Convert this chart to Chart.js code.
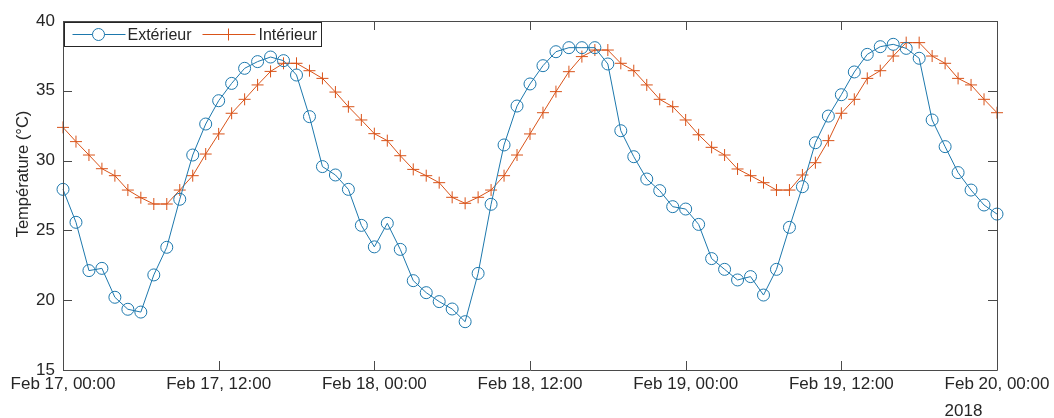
<!DOCTYPE html>
<html>
<head>
<meta charset="utf-8">
<script src="https://cdn.jsdelivr.net/npm/chart.js@4/dist/chart.umd.min.js"></script>
<style>
  html, body { margin: 0; padding: 0; background: #fff; }
  #wrap { width: 1054px; height: 418px; }
</style>
</head>
<body>
<div id="wrap"><canvas id="chart" width="1054" height="418"></canvas></div>
<script>
/* hours since Feb 17, 00:00 */
const hours = [0,1,2,3,4,5,6,7,8,9,10,11,12,13,14,15,16,17,18,19,20,21,22,23,24,
  25,26,27,28,29,30,31,32,33,34,35,36,37,38,39,40,41,42,43,44,45,46,47,48,
  49,50,51,52,53,54,55,56,57,58,59,60,61,62,63,64,65,66,67,68,69,70,71,72];

const exterieur = [27.94,25.58,22.12,22.28,20.21,19.35,19.15,21.81,23.79,27.23,30.40,32.62,34.29,
  35.53,36.61,37.09,37.42,37.16,36.13,33.15,29.57,28.97,27.94,25.36,23.82,
  25.51,23.64,21.40,20.54,19.90,19.37,18.46,21.92,26.87,31.12,33.91,35.49,
  36.80,37.80,38.09,38.09,38.09,36.92,32.14,30.28,28.68,27.85,26.70,26.53,
  25.43,22.98,22.21,21.45,21.69,20.37,22.21,25.22,28.13,31.28,33.19,34.72,
  36.35,37.61,38.16,38.33,38.04,37.33,32.91,31.00,29.14,27.89,26.82,26.17];

const interieur = [32.38,31.36,30.40,29.42,28.92,27.89,27.34,26.89,26.89,27.89,28.92,30.47,31.91,
  33.39,34.39,35.42,36.39,36.97,36.97,36.44,35.89,34.91,33.86,32.91,31.93,
  31.43,30.35,29.37,28.92,28.42,27.37,26.94,27.37,27.89,28.92,30.40,31.91,
  33.43,34.94,36.37,37.45,37.92,37.92,36.97,36.44,35.42,34.39,33.86,32.91,
  31.85,30.95,30.40,29.40,28.92,28.42,27.89,27.89,28.97,29.85,31.43,33.39,
  34.39,35.89,36.44,37.49,38.45,38.45,37.49,36.97,35.89,35.42,34.39,33.43];

const tickHours = [0, 12, 24, 36, 48, 60, 72];
const tickLabels = ['Feb 17, 00:00', 'Feb 17, 12:00', 'Feb 18, 00:00', 'Feb 18, 12:00',
  'Feb 19, 00:00', 'Feb 19, 12:00', 'Feb 20, 00:00'];
const yTicks = [15, 20, 25, 30, 35, 40];
const yearLabel = '2018';
const yTitle = 'Température (°C)';
const seriesNames = ['Extérieur', 'Intérieur'];

const BLUE = '#1d78ad';
const ORANGE = '#d95319';
const AXIS = '#4a4a4a';
const TEXT = '#262626';
const FONT = "'Liberation Sans', Arial, sans-serif";

function toPoints(values) {
    return hours.map((h, i) => ({ x: h, y: values[i] }));
}

/* box, inward ticks, legend, y title and year label like MATLAB */
const matlabAxes = {
    id: 'matlabAxes',
    afterDatasetsDraw(chart) {
        const ctx = chart.ctx;
        const { left, right, top, bottom } = chart.chartArea;
        const xs = chart.scales.x;
        const ys = chart.scales.y;
        const tl = 9;
        ctx.save();
        ctx.strokeStyle = AXIS;
        ctx.lineWidth = 1;
        ctx.beginPath();
        ctx.rect(Math.round(left) + 0.5, Math.round(top) + 0.5,
            Math.round(right - left), Math.round(bottom - top));
        ctx.stroke();

        ctx.beginPath();
        tickHours.forEach(h => {
            const px = Math.round(xs.getPixelForValue(h)) + 0.5;
            ctx.moveTo(px, bottom); ctx.lineTo(px, bottom - tl);
            ctx.moveTo(px, top); ctx.lineTo(px, top + tl);
        });
        yTicks.forEach(v => {
            const py = Math.round(ys.getPixelForValue(v)) + 0.5;
            ctx.moveTo(left, py); ctx.lineTo(left + tl, py);
            ctx.moveTo(right, py); ctx.lineTo(right - tl, py);
        });
        ctx.stroke();

        // legend box
        const lx = Math.round(left) + 1.5, ly = Math.round(top) + 1.5;
        const lw = 257, lh = 24;
        ctx.fillStyle = '#fff';
        ctx.fillRect(lx, ly, lw, lh);
        ctx.strokeStyle = '#262626';
        ctx.strokeRect(lx, ly, lw, lh);
        const cy = ly + lh / 2;
        ctx.font = '16px ' + FONT;
        ctx.textBaseline = 'middle';
        ctx.textAlign = 'left';

        ctx.strokeStyle = BLUE;
        ctx.beginPath();
        ctx.moveTo(lx + 8, cy); ctx.lineTo(lx + 61, cy);
        ctx.stroke();
        ctx.beginPath();
        ctx.arc(lx + 34, cy, 6, 0, Math.PI * 2);
        ctx.fillStyle = '#fff';
        ctx.fill();
        ctx.stroke();
        ctx.fillStyle = TEXT;
        ctx.fillText(seriesNames[0], lx + 63, cy + 1);

        ctx.strokeStyle = ORANGE;
        ctx.beginPath();
        ctx.moveTo(lx + 138, cy); ctx.lineTo(lx + 191, cy);
        ctx.moveTo(lx + 164, cy - 6); ctx.lineTo(lx + 164, cy + 6);
        ctx.stroke();
        ctx.fillStyle = TEXT;
        ctx.fillText(seriesNames[1], lx + 194, cy + 1);

        // y title
        ctx.save();
        ctx.translate(23, 174);
        ctx.rotate(-Math.PI / 2);
        ctx.textAlign = 'center';
        ctx.textBaseline = 'middle';
        ctx.font = '16.5px ' + FONT;
        ctx.fillText(yTitle, 0, 0);
        ctx.restore();

        // year under the last tick, left-aligned with its label
        ctx.font = '17px ' + FONT;
        const lastW = ctx.measureText(tickLabels[tickLabels.length - 1]).width;
        ctx.textAlign = 'left';
        ctx.textBaseline = 'top';
        ctx.fillText(yearLabel, xs.getPixelForValue(72) - lastW / 2, bottom + 33);
        ctx.restore();
    }
};

new Chart('chart', {
    type: 'line',
    data: {
        datasets: [{
            label: seriesNames[0],
            data: toPoints(exterieur),
            borderColor: BLUE,
            borderWidth: 1,
            backgroundColor: 'rgba(0,0,0,0)',
            pointStyle: 'circle',
            pointRadius: 6,
            pointBorderWidth: 1,
            pointBorderColor: BLUE,
            pointBackgroundColor: 'rgba(0,0,0,0)',
            tension: 0,
            clip: false
        }, {
            label: seriesNames[1],
            data: toPoints(interieur),
            borderColor: ORANGE,
            borderWidth: 1,
            backgroundColor: 'rgba(0,0,0,0)',
            pointStyle: 'cross',
            pointRadius: 6,
            pointBorderWidth: 1,
            pointBorderColor: ORANGE,
            tension: 0,
            clip: false
        }]
    },
    options: {
        responsive: false,
        animation: false,
        layout: { padding: { top: 21, right: 57, left: 0, bottom: 0 } },
        plugins: {
            legend: { display: false },
            tooltip: { enabled: false }
        },
        scales: {
            x: {
                type: 'linear',
                min: 0,
                max: 72,
                afterBuildTicks: axis => {
                    axis.ticks = tickHours.map(v => ({ value: v }));
                },
                afterFit: axis => { axis.height = 48; },
                grid: { display: false, drawTicks: false },
                border: { display: false },
                ticks: {
                    autoSkip: false,
                    maxRotation: 0,
                    padding: 4,
                    color: TEXT,
                    font: { family: FONT, size: 17 },
                    callback: v => tickLabels[tickHours.indexOf(v)]
                }
            },
            y: {
                min: 15,
                max: 40,
                afterBuildTicks: axis => {
                    axis.ticks = yTicks.map(v => ({ value: v }));
                },
                afterFit: axis => { axis.width = 63; },
                grid: { display: false, drawTicks: false },
                border: { display: false },
                ticks: {
                    padding: 8,
                    color: TEXT,
                    font: { family: FONT, size: 17 }
                }
            }
        }
    },
    plugins: [matlabAxes]
});
</script>
</body>
</html>
